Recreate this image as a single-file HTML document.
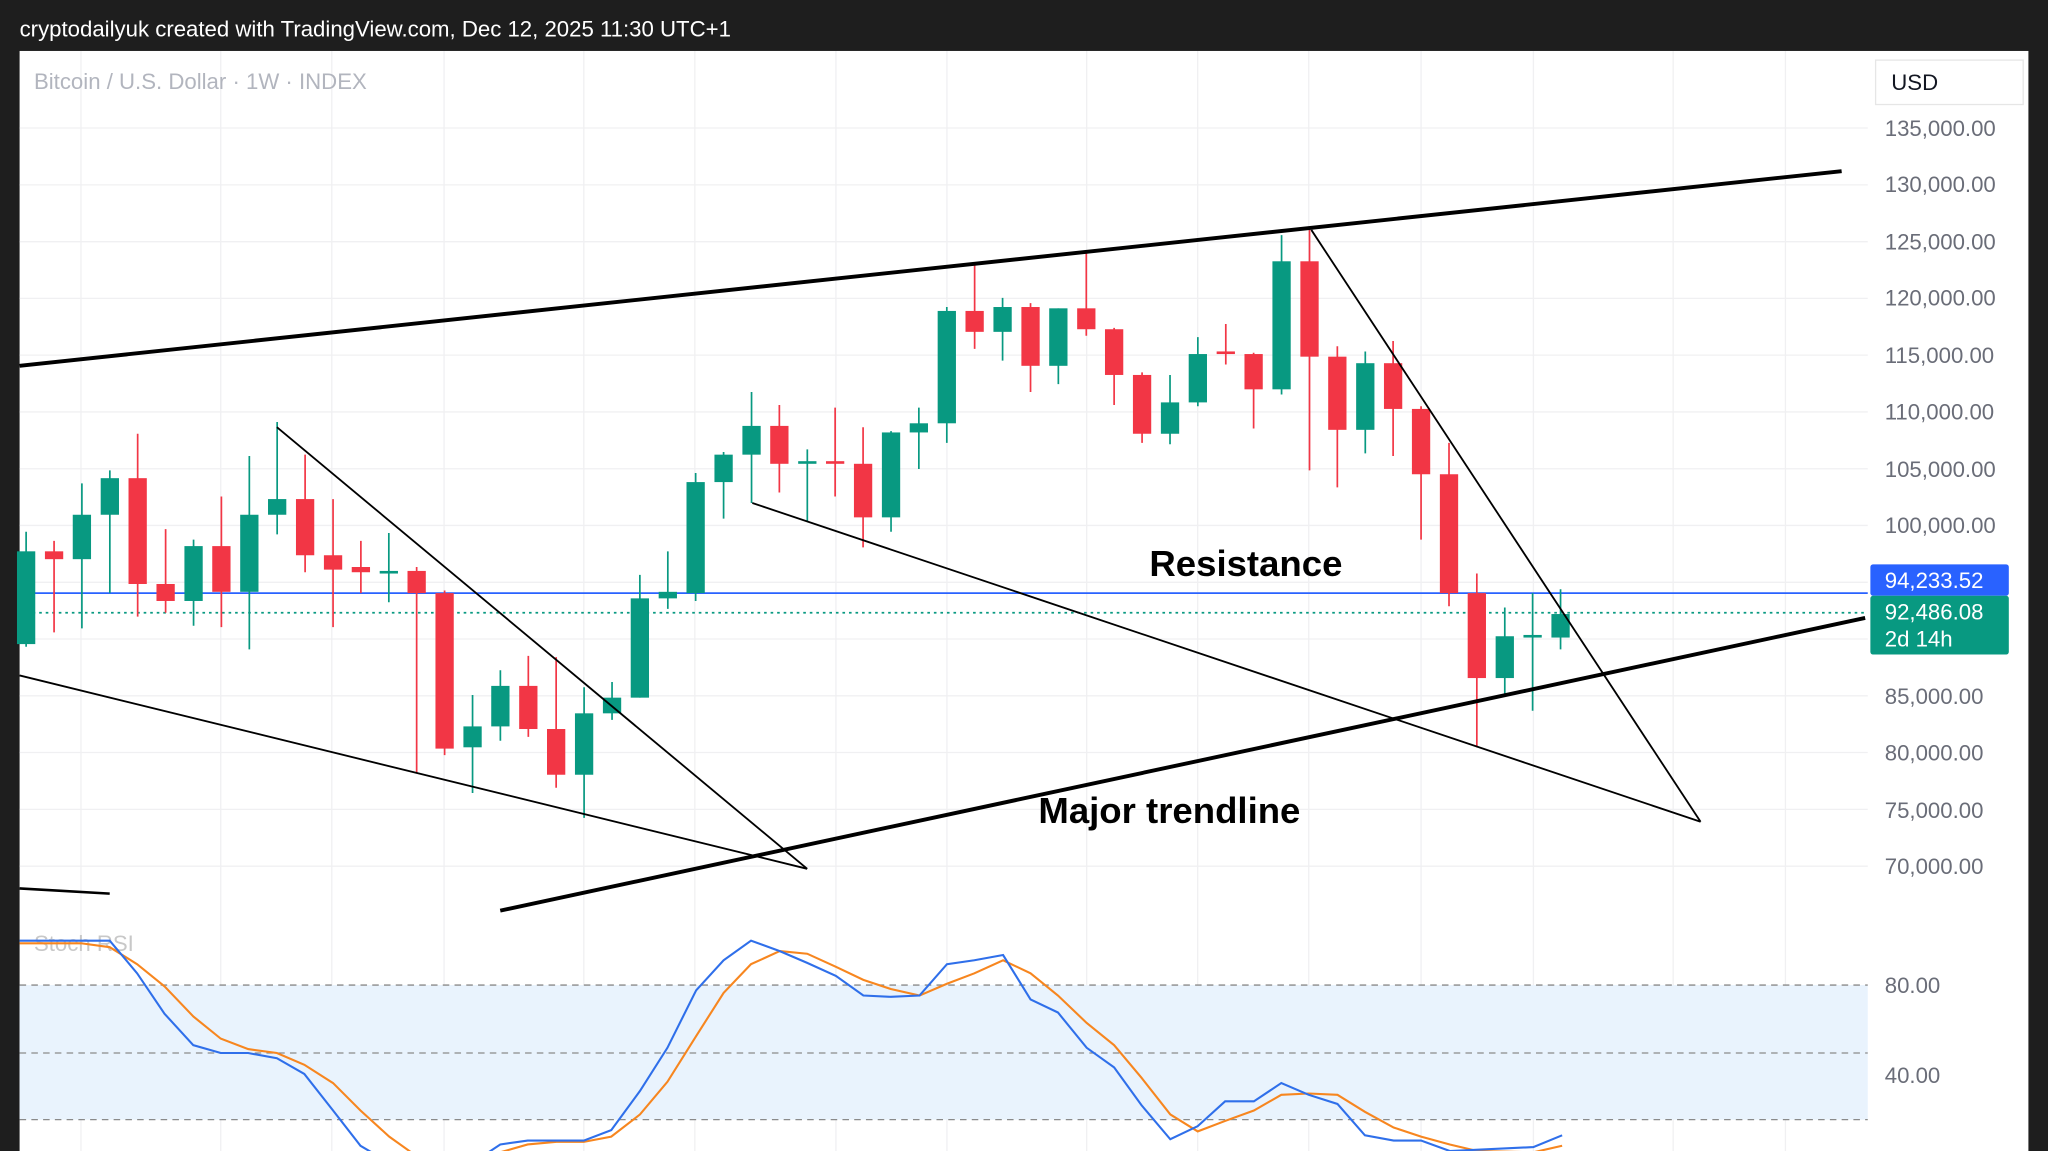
<!DOCTYPE html>
<html><head><meta charset="utf-8"><style>
html,body{margin:0;padding:0;background:#1e1e1e;}
svg{display:block;}
text{font-family:"Liberation Sans",sans-serif;}
</style></head><body>
<svg width="2048" height="1151" viewBox="0 0 1568 881" preserveAspectRatio="none" xmlns="http://www.w3.org/2000/svg">
<rect x="0" y="0" width="1568" height="881" fill="#1e1e1e"/>
<rect x="15" y="39" width="1538" height="842" fill="#ffffff"/>
<text x="15" y="28" font-size="17" fill="#ffffff">cryptodailyuk created with TradingView.com, Dec 12, 2025 11:30 UTC+1</text>
<!-- grid -->
<g stroke="#f0f0f2" stroke-width="1">
<path d="M15 98H1430M15 141.5H1430M15 185H1430M15 228.4H1430M15 271.8H1430M15 315.3H1430M15 358.8H1430M15 402.2H1430M15 445.7H1430M15 489.1H1430M15 532.6H1430M15 576H1430M15 619.5H1430M15 663H1430"/>
<path d="M62 39V881M169 39V881M254 39V881M340 39V881M447 39V881M532 39V881M640 39V881M725 39V881M832 39V881M917 39V881M1002 39V881M1088 39V881M1174 39V881M1281 39V881M1367 39V881"/>
</g>
<text x="26" y="68" font-size="17" fill="#b2b5be">Bitcoin / U.S. Dollar · 1W · INDEX</text>
<!-- price labels -->
<g font-size="17" fill="#6a6d78">
<text x="1443" y="104">135,000.00</text>
<text x="1443" y="147">130,000.00</text>
<text x="1443" y="191">125,000.00</text>
<text x="1443" y="234">120,000.00</text>
<text x="1443" y="278">115,000.00</text>
<text x="1443" y="321">110,000.00</text>
<text x="1443" y="365">105,000.00</text>
<text x="1443" y="408">100,000.00</text>
<text x="1443" y="539">85,000.00</text>
<text x="1443" y="582">80,000.00</text>
<text x="1443" y="626">75,000.00</text>
<text x="1443" y="669">70,000.00</text>
</g>
<rect x="1436" y="46" width="113" height="34" fill="#fff" stroke="#e6e6e6"/>
<text x="1448" y="69" font-size="17" fill="#131722">USD</text>
<!-- stoch band -->
<rect x="15" y="754" width="1415" height="103" fill="#e9f3fd"/>
<g stroke="#8a8a8a" stroke-width="1" stroke-dasharray="5,4">
<path d="M15 754H1430M15 806H1430M15 857H1430"/>
</g>
<text x="26" y="728" font-size="17" fill="#c8c8c8">Stoch RSI</text>
<text x="1443" y="760" font-size="17" fill="#6a6d78">80.00</text>
<text x="1443" y="829" font-size="17" fill="#6a6d78">40.00</text>
<polyline fill="none" stroke="#f7861f" stroke-width="1.6" points="15,722 62,722 84,725 105,738 126,755 148,778 169,795 190,803 212,806 233,815 255,829 276,850 298,870 319,885 383,882 404,876 426,874 447,874 468,870 490,853 511,828 533,793 554,760 575,738 597,728 618,730 640,740 661,750 682,757 704,762 725,753 746,745 768,735 789,745 810,762 832,783 853,800 874,825 896,853 917,866 938,858 960,850 981,838 1002,837 1024,838 1045,851 1067,863 1088,870 1110,876 1131,881 1174,882 1196,877"/>
<polyline fill="none" stroke="#2f6fea" stroke-width="1.6" points="15,720 84,720 105,745 126,776 148,800 169,806 190,806 212,810 233,822 255,850 276,877 298,890 362,890 383,876 404,873 426,873 447,873 468,865 490,835 511,802 533,758 554,735 575,720 597,728 618,737 640,747 661,762 682,763 704,762 725,738 746,735 768,731 789,765 810,775 832,802 853,817 874,846 896,872 917,862 938,843 960,843 981,829 1002,838 1024,845 1045,869 1067,873 1088,873 1110,881 1174,878 1196,869"/>
<!-- price lines -->
<line x1="15" y1="454" x2="1430" y2="454" stroke="#2962ff" stroke-width="1.3"/>
<line x1="15" y1="469" x2="1430" y2="469" stroke="#089981" stroke-width="1.3" stroke-dasharray="2,3"/>
<!-- candles green -->
<g fill="#089981" stroke="#089981">
<path stroke-width="1.3" fill="none" d="M20 407V495M62.7 370V481M84.1 360V454M148.2 413V479M190.9 349V497M212.2 323V409M297.7 408V461M361.8 532V607M383.1 513V567M447.2 526V626M468.6 522V551M489.9 440V534M511.3 422V466M532.6 362V460M554 346V397M575.4 300V385M618.1 344V399M682.2 330V407M703.5 312V359M724.9 235V339M767.6 228V276M810.3 236V294M895.8 287V340M917.1 258V311M981.2 180V302M1045.3 269V347M1152.1 465V531M1173.4 454V544M1194.8 451V497"/>
<g stroke="none">
<rect x="13" y="422" width="14" height="71"/><rect x="55.7" y="394" width="14" height="34"/><rect x="77.1" y="366" width="14" height="28"/><rect x="141.2" y="418" width="14" height="42"/><rect x="183.9" y="394" width="14" height="59"/><rect x="205.2" y="382" width="14" height="12"/><rect x="290.7" y="437" width="14" height="2"/><rect x="354.8" y="556" width="14" height="16"/><rect x="376.1" y="525" width="14" height="31"/><rect x="440.2" y="546" width="14" height="47"/><rect x="461.6" y="534" width="14" height="12"/><rect x="482.9" y="458" width="14" height="76"/><rect x="504.3" y="453" width="14" height="5"/><rect x="525.6" y="369" width="14" height="85"/><rect x="547" y="348" width="14" height="21"/><rect x="568.4" y="326" width="14" height="22"/><rect x="611.1" y="353" width="14" height="2"/><rect x="675.2" y="331" width="14" height="65"/><rect x="696.5" y="324" width="14" height="7"/><rect x="717.9" y="238" width="14" height="86"/><rect x="760.6" y="235" width="14" height="19"/><rect x="803.3" y="236" width="14" height="44"/><rect x="888.8" y="308" width="14" height="24"/><rect x="910.1" y="271" width="14" height="37"/><rect x="974.2" y="200" width="14" height="98"/><rect x="1038.3" y="278" width="14" height="51"/><rect x="1145.1" y="487" width="14" height="32"/><rect x="1166.4" y="486" width="14" height="2"/><rect x="1187.8" y="470" width="14" height="18"/>
</g></g>
<!-- candles red -->
<g fill="#f23645" stroke="#f23645">
<path stroke-width="1.3" fill="none" d="M41.4 414V484M105.4 332V472M126.8 405V469M169.5 380V480M233.6 348V438M255 382V480M276.3 414V454M319 434V592M340.4 452V578M404.5 502V564M425.8 503V603M596.7 310V377M639.4 312V380M660.8 327V419M746.2 202V267M789 232V300M831.7 194V257M853 251V310M874.4 285V339M938.5 248V279M959.8 270V328M1002.6 176V360M1023.9 265V373M1066.6 261V349M1088 311V413M1109.4 339V464M1130.7 439V572"/>
<g stroke="none">
<rect x="34.4" y="422" width="14" height="6"/><rect x="98.4" y="366" width="14" height="81"/><rect x="119.8" y="447" width="14" height="13"/><rect x="162.5" y="418" width="14" height="35"/><rect x="226.6" y="382" width="14" height="43"/><rect x="248" y="425" width="14" height="11"/><rect x="269.3" y="434" width="14" height="4"/><rect x="312" y="437" width="14" height="17"/><rect x="333.4" y="454" width="14" height="119"/><rect x="397.5" y="525" width="14" height="33"/><rect x="418.8" y="558" width="14" height="35"/><rect x="589.7" y="326" width="14" height="29"/><rect x="632.4" y="353" width="14" height="2"/><rect x="653.8" y="355" width="14" height="41"/><rect x="739.2" y="238" width="14" height="16"/><rect x="782" y="235" width="14" height="45"/><rect x="824.7" y="236" width="14" height="16"/><rect x="846" y="252" width="14" height="35"/><rect x="867.4" y="287" width="14" height="45"/><rect x="931.5" y="269" width="14" height="2"/><rect x="952.8" y="271" width="14" height="27"/><rect x="995.6" y="200" width="14" height="73"/><rect x="1016.9" y="273" width="14" height="56"/><rect x="1059.6" y="278" width="14" height="35"/><rect x="1081" y="313" width="14" height="50"/><rect x="1102.4" y="363" width="14" height="91"/><rect x="1123.7" y="454" width="14" height="65"/>
</g></g>
<!-- trendlines -->
<g stroke="#000" fill="none">
<line x1="15" y1="280" x2="1410" y2="131" stroke-width="3"/>
<line x1="383" y1="697" x2="1428" y2="473" stroke-width="3"/>
<line x1="15" y1="680" x2="84" y2="684" stroke-width="2"/>
<line x1="15" y1="517" x2="618" y2="665" stroke-width="1.4"/>
<line x1="212" y1="327" x2="618" y2="665" stroke-width="1.4"/>
<line x1="576" y1="385" x2="1302" y2="629" stroke-width="1.4"/>
<line x1="1004" y1="176" x2="1302" y2="629" stroke-width="1.4"/>
</g>
<text x="880" y="441" font-size="28" font-weight="bold" fill="#000">Resistance</text>
<text x="795" y="630" font-size="28" font-weight="bold" fill="#000">Major trendline</text>
<!-- price tags -->
<rect x="1432" y="432" width="106" height="24" rx="2" fill="#2962ff"/>
<text x="1443" y="450" font-size="17" fill="#fff">94,233.52</text>
<rect x="1432" y="456" width="106" height="45" rx="2" fill="#089981"/>
<text x="1443" y="474" font-size="17" fill="#fff">92,486.08</text>
<text x="1443" y="495" font-size="17" fill="#fff">2d 14h</text>
</svg>
</body></html>
